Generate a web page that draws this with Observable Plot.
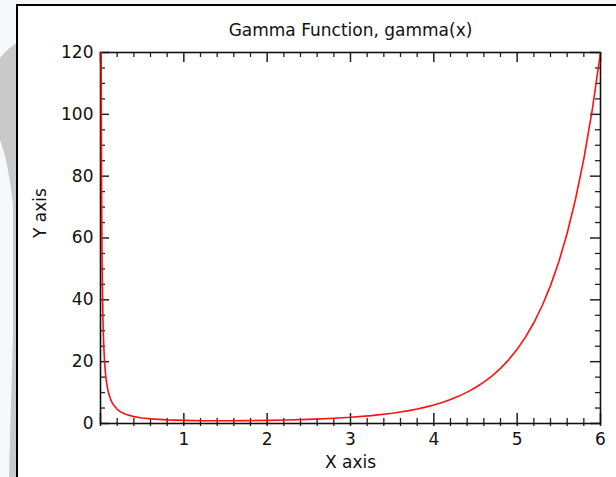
<!DOCTYPE html>
<html>
<head>
<meta charset="utf-8">
<script src="https://cdn.jsdelivr.net/npm/d3@7"></script>
<script src="https://cdn.jsdelivr.net/npm/@observablehq/plot@0.6"></script>
<style>
  html, body { margin: 0; padding: 0; background: #f6f8fa; }
  #wrap { position: relative; width: 616px; height: 477px; overflow: hidden; background: #f6f8fa; }
  #deco { position: absolute; left: 0; top: 0; }
  #panel { position: absolute; left: 16px; top: 4px; width: 610px; height: 480px; background: #ffffff;
           border-left: 2px solid #000; border-top: 2px solid #000; }
  #chart { position: absolute; left: 0; top: 0; }
</style>
</head>
<body>
<div id="wrap">
  <svg id="deco" width="616" height="477">
    <path d="M0,58 Q8,48 18,42 L18,477 L9,477 Q11,400 13,335 L13,205 Q8,160 0,140 Z" fill="#c9c9c9"/>
  </svg>
  <div id="panel"></div>
  <div id="chart"></div>
</div>
<script>
const xValues = [0.0083, 0.01, 0.015, 0.02, 0.03, 0.04, 0.05, 0.06, 0.07, 0.085, 0.1, 0.125, 0.15, 0.2, 0.25, 0.3, 0.4, 0.5, 0.6, 0.8, 1.0, 1.25, 1.5, 1.75, 2.0, 2.25, 2.5, 2.75, 3.0, 3.25, 3.5, 3.6, 3.7, 3.8, 3.9, 4.0, 4.1, 4.2, 4.3, 4.4, 4.5, 4.6, 4.7, 4.8, 4.9, 5.0, 5.1, 5.2, 5.3, 5.4, 5.5, 5.6, 5.7, 5.8, 5.9, 6.0];
const yValues = [120, 99.4, 66.1, 49.4, 32.8, 24.5, 19.5, 16.1, 13.8, 11.3, 9.51, 7.53, 6.22, 4.59, 3.63, 2.99, 2.22, 1.77, 1.49, 1.16, 1.0, 0.906, 0.886, 0.919, 1.0, 1.13, 1.33, 1.61, 2.0, 2.55, 3.32, 3.72, 4.17, 4.69, 5.30, 6.0, 6.81, 7.76, 8.86, 10.14, 11.63, 13.38, 15.43, 17.84, 20.67, 24.0, 27.93, 32.58, 38.08, 44.60, 52.34, 61.55, 72.53, 85.62, 101.27, 120];

const xMajorTicks = [0, 1, 2, 3, 4, 5, 6];
const xTickLabels = ["", "1", "2", "3", "4", "5", "6"];
const xMinorTicks = [0.2, 0.4, 0.6, 0.8, 1.2, 1.4, 1.6, 1.8, 2.2, 2.4, 2.6, 2.8, 3.2, 3.4, 3.6, 3.8, 4.2, 4.4, 4.6, 4.8, 5.2, 5.4, 5.6, 5.8];
const yMajorTicks = [0, 20, 40, 60, 80, 100, 120];
const yTickLabels = ["0", "20", "40", "60", "80", "100", "120"];
const yMinorTicks = [5, 10, 15, 25, 30, 35, 45, 50, 55, 65, 70, 75, 85, 90, 95, 105, 110, 115];

const titleText = "Gamma Function, gamma(x)";
const xLabel = "X axis";
const yLabel = "Y axis";

const W = 616, H = 477;
const mL = 100, mR = 16, mT = 52, mB = 54;
const innerW = W - mL - mR, innerH = H - mT - mB;

const curve = xValues.map((x, i) => ({x, y: yValues[i]}));
const tickColor = "#222";
const font = "DejaVu Sans, sans-serif";

const chart = Plot.plot({
  width: W, height: H,
  marginLeft: mL, marginRight: mR, marginTop: mT, marginBottom: mB,
  x: {domain: [0, 6], axis: null},
  y: {domain: [0, 120], axis: null},
  style: {fontFamily: font, fontSize: "16px", background: "transparent", color: "#111"},
  marks: [
    // bottom ticks
    Plot.tickX(xMajorTicks, {x: d => d, insetTop: innerH - 10, insetBottom: -3, stroke: tickColor, strokeWidth: 1.5}),
    Plot.tickX(xMinorTicks, {x: d => d, insetTop: innerH - 5, insetBottom: -3, stroke: tickColor, strokeWidth: 1.3}),
    // top ticks
    Plot.tickX(xMajorTicks, {x: d => d, insetBottom: innerH - 10, stroke: tickColor, strokeWidth: 1.5}),
    Plot.tickX(xMinorTicks, {x: d => d, insetBottom: innerH - 5, stroke: tickColor, strokeWidth: 1.3}),
    // left ticks
    Plot.tickY(yMajorTicks, {y: d => d, insetRight: innerW - 9, stroke: tickColor, strokeWidth: 1.5}),
    Plot.tickY(yMinorTicks, {y: d => d, insetRight: innerW - 5, stroke: tickColor, strokeWidth: 1.3}),
    // right ticks
    Plot.tickY(yMajorTicks, {y: d => d, insetLeft: innerW - 10, stroke: tickColor, strokeWidth: 1.5}),
    Plot.tickY(yMinorTicks, {y: d => d, insetLeft: innerW - 5, stroke: tickColor, strokeWidth: 1.3}),
    Plot.frame({stroke: "#111", strokeWidth: 1.6}),
    Plot.line(curve, {x: "x", y: "y", stroke: "#ff1010", strokeWidth: 1.6, clip: true}),
    // tick labels
    Plot.text(xMajorTicks, {x: d => d, frameAnchor: "bottom", text: (d, i) => xTickLabels[i], dy: 16, lineAnchor: "middle", fill: "#111", fontSize: 17}),
    Plot.text(yMajorTicks, {y: d => d, frameAnchor: "left", text: (d, i) => yTickLabels[i], dx: -7, textAnchor: "end", fill: "#111", fontSize: 17}),
    // titles
    Plot.text([titleText], {frameAnchor: "top", text: d => d, dy: -22, lineAnchor: "middle", fill: "#111", fontSize: 17}),
    Plot.text([xLabel], {frameAnchor: "bottom", text: d => d, dy: 39, lineAnchor: "middle", fill: "#111", fontSize: 17}),
    Plot.text([yLabel], {frameAnchor: "left", text: d => d, dx: -60, rotate: -90, lineAnchor: "middle", fill: "#111", fontSize: 17})
  ]
});
document.getElementById("chart").appendChild(chart);
</script>
</body>
</html>
